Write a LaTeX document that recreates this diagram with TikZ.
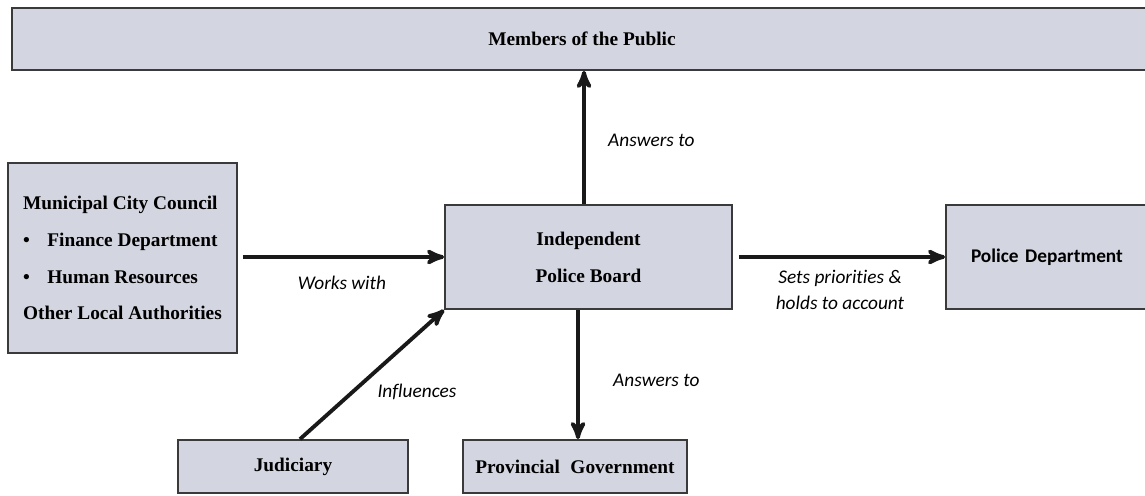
\documentclass[tikz,border=0pt]{standalone}
\usepackage{fontspec}
\setmainfont{Liberation Serif}
\newfontfamily\labelfont[Ligatures=NoCommon]{Carlito}
\usetikzlibrary{arrows}
\definecolor{boxfill}{HTML}{D3D5E0}
\definecolor{boxline}{HTML}{3A3A3A}

\begin{document}
\begin{tikzpicture}[
  box/.style={draw=boxline, line width=1pt, fill=boxfill, inner sep=0pt,
    font=\fontsize{11}{21}\selectfont\bfseries, align=center},
  arr/.style={black!90, line width=2.2pt, ->, >=stealth'},
  lbl/.style={font=\labelfont\itshape\fontsize{11}{13}\selectfont, align=center}]
\clip (0,0) rectangle (22.9,9.9);
\fill[white] (0,0) rectangle (22.9,9.9);
% boxes
\node[box, minimum width=23.2cm, minimum height=1.24cm] (public) at (11.84,9.12) {\hspace{-0.4cm}Members of the Public};
\node[box, minimum width=4.58cm, minimum height=3.8cm, align=left] (council) at (2.45,4.74)
  {Municipal City Council\\
   \textbullet\hspace{0.9em}Finance Department\\
   \textbullet\hspace{0.9em}Human Resources\\
   Other Local Authorities};
\node[box, minimum width=5.74cm, minimum height=2.08cm] (board) at (11.77,4.76) {Independent\\Police Board};
\node[box, minimum width=4.8cm, minimum height=2.08cm, font=\labelfont\bfseries\fontsize{11}{13}\selectfont,
  text width=3.8cm, align=left] (police) at (21.32,4.76) {Police Department};
\node[box, minimum width=4.6cm, minimum height=1.06cm] (judiciary) at (5.86,0.57) {Judiciary};
\node[box, minimum width=4.48cm, minimum height=1.06cm] (provincial) at (11.5,0.57) {Provincial\hspace{0.3em} Government};
% connectors
\draw[arr] ([xshift=-0.09cm]board.north) -- ([xshift=-0.09cm]board.north |- public.south);
\draw[arr] ([xshift=0.06cm]provincial.north |- board.south) -- ([xshift=0.06cm]provincial.north);
\draw[arr] ([xshift=0.1cm]council.east |- board.west) -- (board.west);
\draw[arr] ([xshift=0.12cm]board.east) -- (police.west);
\draw[arr] ([xshift=0.14cm]judiciary.north) -- (board.south west);
% labels
\node[lbl, anchor=west] (lup) at (12.04,7.1) {Answers to};
\node[lbl, anchor=west] (ldown) at (12.14,2.3) {Answers to};
\node[lbl] (lworks) at (6.84,4.24) {Works with};
\node[lbl, align=center, font=\labelfont\itshape\fontsize{11}{14.5}\selectfont] (lsets) at (16.8,4.1) {Sets priorities \&\\holds to account};
\node[lbl] (linfl) at (8.34,2.06) {Influences};
\end{tikzpicture}
\end{document}
